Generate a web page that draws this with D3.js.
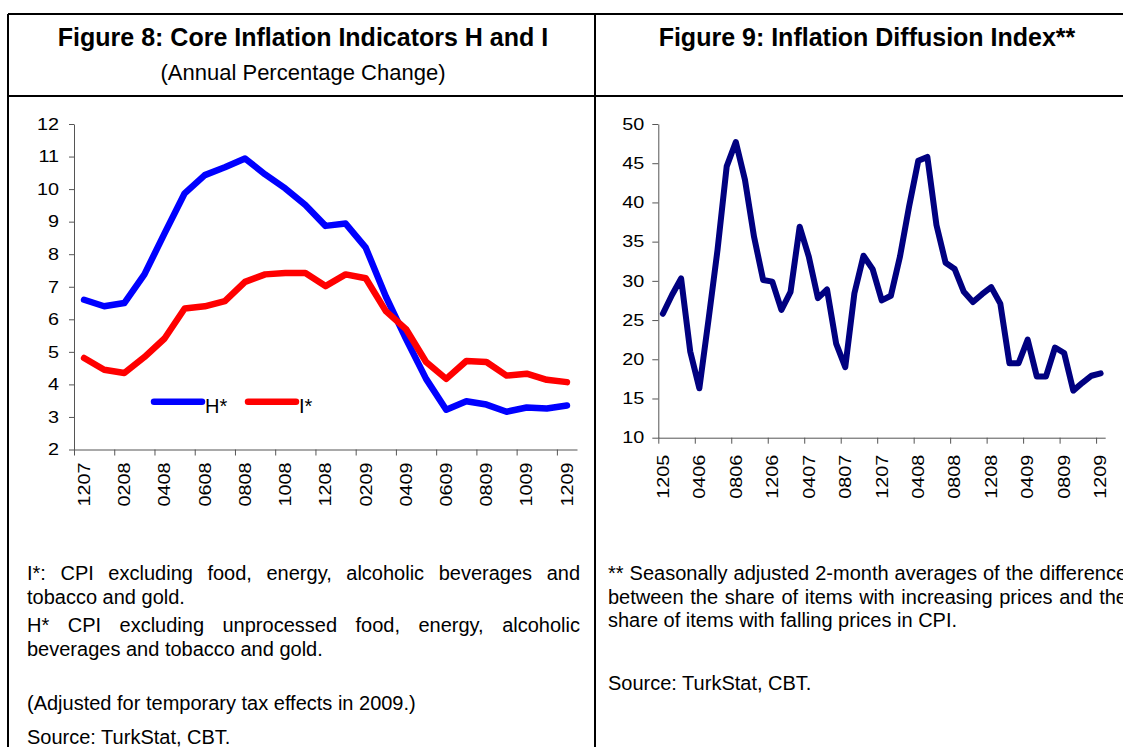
<!DOCTYPE html>
<html>
<head>
<meta charset="utf-8">
<script src="https://cdn.jsdelivr.net/npm/d3@7"></script>
<style>
html,body{margin:0;padding:0;background:#fff;overflow:hidden;width:1123px;height:747px;}
svg{display:block;font-family:"Liberation Sans",Arial,Helvetica,sans-serif;}
</style>
</head>
<body>
<svg id="c" width="1123" height="747"></svg>
<script>
// ---------- DATA ----------
const leftMonths = ["1207","0108","0208","0308","0408","0508","0608","0708","0808","0908","1008","1108","1208",
  "0109","0209","0309","0409","0509","0609","0709","0809","0909","1009","1109","1209"];
const coreH = [6.60,6.40,6.50,7.38,8.64,9.87,10.43,10.67,10.94,10.45,10.02,9.51,8.87,
  8.94,8.20,6.70,5.40,4.17,3.22,3.48,3.38,3.16,3.29,3.26,3.35];
const coreI = [4.81,4.45,4.35,4.84,5.41,6.33,6.40,6.56,7.15,7.38,7.42,7.42,7.02,
  7.38,7.26,6.25,5.70,4.69,4.17,4.72,4.69,4.27,4.33,4.14,4.07];
const leftYTicks = [2,3,4,5,6,7,8,9,10,11,12];
const leftSeriesNames = ["H*","I*"];

const diffMonths = ["1205",
  "0106","0206","0306","0406","0506","0606","0706","0806","0906","1006","1106","1206",
  "0107","0207","0307","0407","0507","0607","0707","0807","0907","1007","1107","1207",
  "0108","0208","0308","0408","0508","0608","0708","0808","0908","1008","1108","1208",
  "0109","0209","0309","0409","0509","0609","0709","0809","0909","1009","1109","1209"];
const diffusion = [25.8,28.2,30.3,21.0,16.3,25.0,34.0,44.6,47.7,42.9,35.6,30.1,29.9,
  26.3,28.6,36.9,33.1,27.8,28.9,22.0,19.0,28.4,33.2,31.5,27.5,
  28.1,33.1,39.5,45.3,45.8,37.1,32.3,31.5,28.6,27.3,28.3,29.2,
  27.1,19.5,19.5,22.5,17.8,17.8,21.5,20.8,16.0,17.0,17.9,18.2];
const rightYTicks = [10,15,20,25,30,35,40,45,50];

const title8 = "Figure 8: Core Inflation Indicators H and I";
const subtitle8 = "(Annual Percentage Change)";
const title9 = "Figure 9: Inflation Diffusion Index**";
const notesLeft = [
  {t:"I*: CPI excluding food, energy, alcoholic beverages and", j:true, y:580},
  {t:"tobacco and gold.", j:false, y:604},
  {t:"H* CPI excluding unprocessed food, energy, alcoholic", j:true, y:632},
  {t:"beverages and tobacco and gold.", j:false, y:656},
  {t:"(Adjusted for temporary tax effects in 2009.)", j:false, y:710},
  {t:"Source: TurkStat, CBT.", j:false, y:744}
];
const notesRight = [
  {t:"** Seasonally adjusted 2-month averages of the difference", j:true, y:580},
  {t:"between the share of items with increasing prices and the", j:true, y:604},
  {t:"share of items with falling prices in CPI.", j:false, y:627},
  {t:"Source: TurkStat, CBT.", j:false, y:690}
];

// ---------- DRAW ----------
const svg = d3.select("#c");
const AX = "#555";
const TICKFS = 16.5;
const STRETCH = 1.2;

// frame
const frame = svg.append("g").attr("stroke","#000").attr("stroke-width",1.6).attr("shape-rendering","crispEdges");
[[8,14,1123,14],[8,96,1123,96],[8,14,8,747],[595,14,595,747]].forEach(l=>{
  frame.append("line").attr("x1",l[0]).attr("y1",l[1]).attr("x2",l[2]).attr("y2",l[3]);
});

// titles
svg.append("text").attr("x",303).attr("y",46).attr("text-anchor","middle")
  .attr("font-size",25).attr("font-weight","bold").text(title8);
svg.append("text").attr("x",303).attr("y",80).attr("text-anchor","middle")
  .attr("font-size",22).text(subtitle8);
svg.append("text").attr("x",867).attr("y",46).attr("text-anchor","middle")
  .attr("font-size",25).attr("font-weight","bold").text(title9);

function styleAxis(g){
  g.select(".domain").attr("stroke",AX).attr("stroke-width",1);
  g.selectAll(".tick line").attr("stroke",AX).attr("stroke-width",1);
  g.selectAll(".tick text").attr("font-size",TICKFS).attr("fill","#000")
    .attr("font-family",'"Liberation Sans",Arial,sans-serif');
}

function drawChart(o){
  const xb = d3.scaleBand().domain(o.cats).range([o.x0,o.x1]).padding(0);
  const xi = d3.scaleLinear().domain([0,o.cats.length]).range([o.x0,o.x1]);
  const y = d3.scaleLinear().domain(o.yDomain).range([o.y0,o.y1]);
  const cx = c => xb(c) + xb.bandwidth()/2;

  const gy = svg.append("g").attr("transform",`translate(${o.x0},0)`)
    .call(d3.axisLeft(y).tickValues(o.yTicks).tickSize(o.tickLen).tickPadding(o.yPad).tickSizeOuter(0));
  styleAxis(gy);
  // widen glyphs like the reference rendering
  gy.selectAll(".tick text").attr("x",-(o.tickLen+o.yPad)/STRETCH).attr("transform",`scale(${STRETCH},1)`);

  const tickIdx = o.cats.map((c,i)=>i).filter(i=>i%o.every===0);
  const gx = svg.append("g").attr("transform",`translate(0,${o.y0})`)
    .call(d3.axisBottom(xi).tickValues(tickIdx).tickSize(6).tickFormat(()=>"").tickSizeOuter(0));
  styleAxis(gx);

  svg.append("g").selectAll("text")
    .data(o.cats.filter((c,i)=>i%o.every===0))
    .join("text")
    .attr("transform",d=>`translate(${cx(d)},${o.y0+o.labOff}) rotate(-90) scale(${STRETCH},1)`)
    .attr("text-anchor","end").attr("dy","0.35em")
    .attr("font-size",TICKFS).text(d=>d);

  o.series.forEach(s=>{
    const line = d3.line().x((d,i)=>cx(o.cats[i])).y(d=>y(d));
    svg.append("path").datum(s.values)
      .attr("d",line).attr("fill","none")
      .attr("stroke",s.color).attr("stroke-width",s.width)
      .attr("stroke-linejoin","round").attr("stroke-linecap","round");
  });
  return {xb,y};
}

drawChart({cats:leftMonths,x0:74,x1:577,y0:449.5,y1:124,yDomain:[2,12],yTicks:leftYTicks,
  tickLen:5,yPad:10,every:2,labOff:13,
  series:[{values:coreH,color:"#0000ff",width:6.5},{values:coreI,color:"#ff0000",width:6.5}]});

drawChart({cats:diffMonths,x0:658.3,x1:1105.2,y0:437.7,y1:124,yDomain:[10,50],yTicks:rightYTicks,
  tickLen:6,yPad:8,every:4,labOff:17,
  series:[{values:diffusion,color:"#000080",width:6}]});

// legend (left chart)
const legend = svg.append("g");
const legItems = [{name:leftSeriesNames[0],color:"#0000ff",x:151},{name:leftSeriesNames[1],color:"#ff0000",x:245}];
legItems.forEach(it=>{
  legend.append("line").attr("x1",it.x+3).attr("x2",it.x+51).attr("y1",401.7).attr("y2",401.7)
    .attr("stroke",it.color).attr("stroke-width",6.5).attr("stroke-linecap","round");
  legend.append("text").attr("x",it.x+54).attr("y",412.5).attr("font-size",20).text(it.name);
});

// footnotes
const NFS = 20;
function note(n, x, width){
  const t = svg.append("text").attr("x",x).attr("y",n.y).attr("font-size",NFS).text(n.t);
  if(n.j){
    const w = t.node().getComputedTextLength();
    const spaces = (n.t.match(/ /g)||[]).length;
    t.attr("word-spacing",((width - w)/spaces).toFixed(2));
  }
}
notesLeft.forEach(n=>note(n,27,553));
notesRight.forEach(n=>note(n,608,519));
</script>
</body>
</html>
